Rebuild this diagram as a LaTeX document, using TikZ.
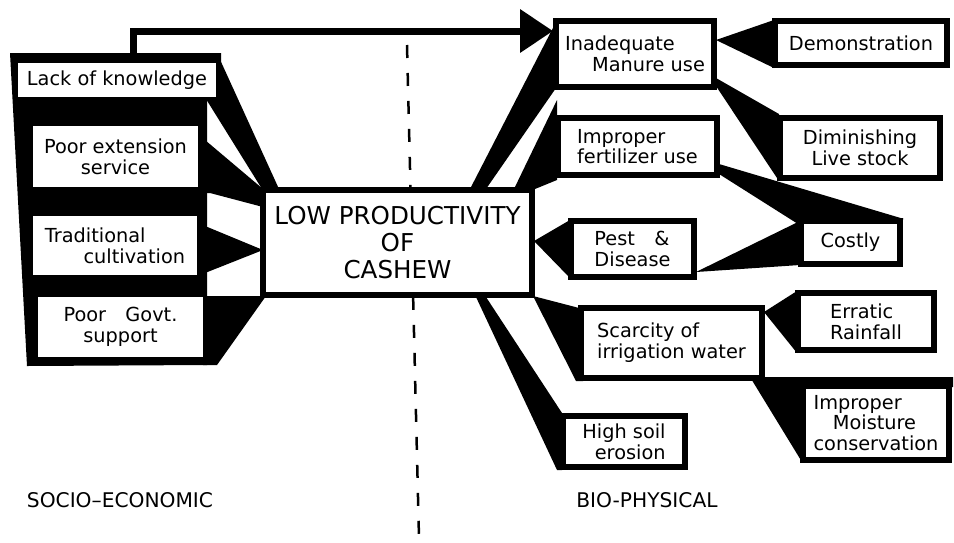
\documentclass[tikz,border=0pt]{standalone}
\usepackage{fontspec}
\setmainfont{DejaVu Sans}
\usetikzlibrary{arrows.meta}
\newcommand\smalllabel{\fontsize{11}{11.8}\selectfont}
\newcommand\biglabel{\fontsize{14}{15.4}\selectfont}
\tikzset{
  box/.style={draw, line width=0.12cm, fill=white, inner sep=0pt, outer sep=0pt,
    font=\smalllabel, align=center},
  slot/.style={fill=white, inner sep=0pt, outer sep=0pt, font=\smalllabel, align=center},
  wedge/.style={fill=black},
  divider/.style={line width=0.05cm, dash pattern=on 0.26cm off 0.3cm},
  side/.style={font=\fontsize{11.5}{13}\selectfont}
}
\begin{document}
\begin{tikzpicture}[x=0.02cm, y=-0.02cm]
\useasboundingbox (0,0) rectangle (954,542);
\fill[white] (0,0) rectangle (954,542);

% dividing line between the two groups of causes
\coordinate (divtop) at (407,45);
\coordinate (divbot) at (419,538);
\draw[divider] (divtop) -- (divbot);

% black backing of the socio-economic column
\fill (10,53) -- (221,53) -- (221,99) -- (207,99) -- (207,365) -- (27,366) -- cycle;

% wedges pointing into the central problem
\fill[wedge] (217,53) -- (279,189) -- (262,189) -- (206,99) -- cycle;
\fill[wedge] (205,140) -- (263,189) -- (263,207) -- (210,193) -- (205,193) -- cycle;
\fill[wedge] (205,226) -- (263,250) -- (205,273) -- cycle;
\fill[wedge] (203,296) -- (266,296) -- (217,365) -- (203,365) -- cycle;
\fill[wedge] (556,22) -- (556,88) -- (486,189) -- (470,189) -- cycle;
\fill[wedge] (557,100) -- (557,180) -- (535,189) -- (514,189) -- cycle;
\fill[wedge] (534,241) -- (570,220) -- (570,278) -- cycle;
\fill[wedge] (533,296) -- (583,309) -- (583,381) -- (576,381) -- cycle;
\fill[wedge] (476,297) -- (486,297) -- (562,413) -- (562,470) -- (557,470) -- cycle;
% wedges between the bio-physical boxes
\fill[wedge] (716,40) -- (774,20) -- (774,68) -- cycle;
\fill[wedge] (716,78) -- (779,114) -- (779,181) -- (716,86) -- cycle;
\fill[wedge] (719,164) -- (904,219) -- (798,224) -- (719,174) -- cycle;
\fill[wedge] (696,272) -- (800,221) -- (800,265) -- cycle;
\fill[wedge] (764,312) -- (797,291) -- (797,353) -- cycle;
\fill[wedge] (750,377) -- (953,377) -- (953,387) -- (802,387) -- (802,462) -- cycle;

% central problem
\node[box, minimum width=5.38cm, minimum height=2.1cm, font=\biglabel]
  (core) at (397.5,242.5) {LOW PRODUCTIVITY\\OF\\CASHEW};

% socio-economic causes
\node[slot, minimum width=3.96cm, minimum height=0.68cm] (lack) at (117,80) {Lack of knowledge};
\node[slot, minimum width=3.3cm, minimum height=1.22cm] (ext) at (115.5,156.5) {Poor extension\\service};
\node[slot, minimum width=3.3cm, minimum height=1.18cm, align=left] (trad) at (115,245.5)
  {Traditional\\\hspace*{2em}cultivation};
\node[slot, minimum width=3.3cm, minimum height=1.2cm] (govt) at (120.5,327) {Poor\quad Govt.\\support};

% bio-physical causes
\node[box, minimum width=3.16cm, minimum height=1.32cm, align=left] (inad) at (635,54)
  {Inadequate\\\hspace*{1.4em}Manure use};
\node[box, minimum width=3.44cm, minimum height=0.88cm] (demo) at (861,43) {Demonstration};
\node[box, minimum width=3.2cm, minimum height=1.2cm] (dimin) at (860,148) {Diminishing\\Live stock};
\node[box, minimum width=3.18cm, minimum height=1.14cm, align=left] (fert) at (637.5,146.5)
  {Improper\\fertilizer use};
\node[box, minimum width=2.46cm, minimum height=1.12cm, align=left] (pest) at (632.5,249)
  {Pest\quad\&\\Disease};
\node[box, minimum width=1.98cm, minimum height=0.86cm] (costly) at (850.5,242.5) {Costly};
\node[box, minimum width=3.62cm, minimum height=1.4cm, align=left] (scarc) at (671.5,343)
  {Scarcity of\\irrigation water};
\node[box, minimum width=2.72cm, minimum height=1.14cm, align=left] (errat) at (866,321.5)
  {Erratic\\Rainfall};
\node[box, minimum width=2.92cm, minimum height=1.48cm, align=left] (moist) at (876,423)
  {Improper\\\hspace*{1em}Moisture\\conservation};
\node[box, minimum width=2.44cm, minimum height=1.02cm, align=right] (soil) at (624,441.5)
  {High soil\\erosion};

% link from lack of knowledge to manure use
\coordinate (arrfoot) at (133,56);
\coordinate (arrtip) at (553,31);
\draw[line width=0.14cm, -{Triangle[length=0.66cm,width=0.84cm]}] (arrfoot) |- (arrtip);

% group captions
\node[side] (socio) at (120,500) {SOCIO--ECONOMIC};
\node[side] (bio) at (647,500) {BIO-PHYSICAL};
\end{tikzpicture}
\end{document}
